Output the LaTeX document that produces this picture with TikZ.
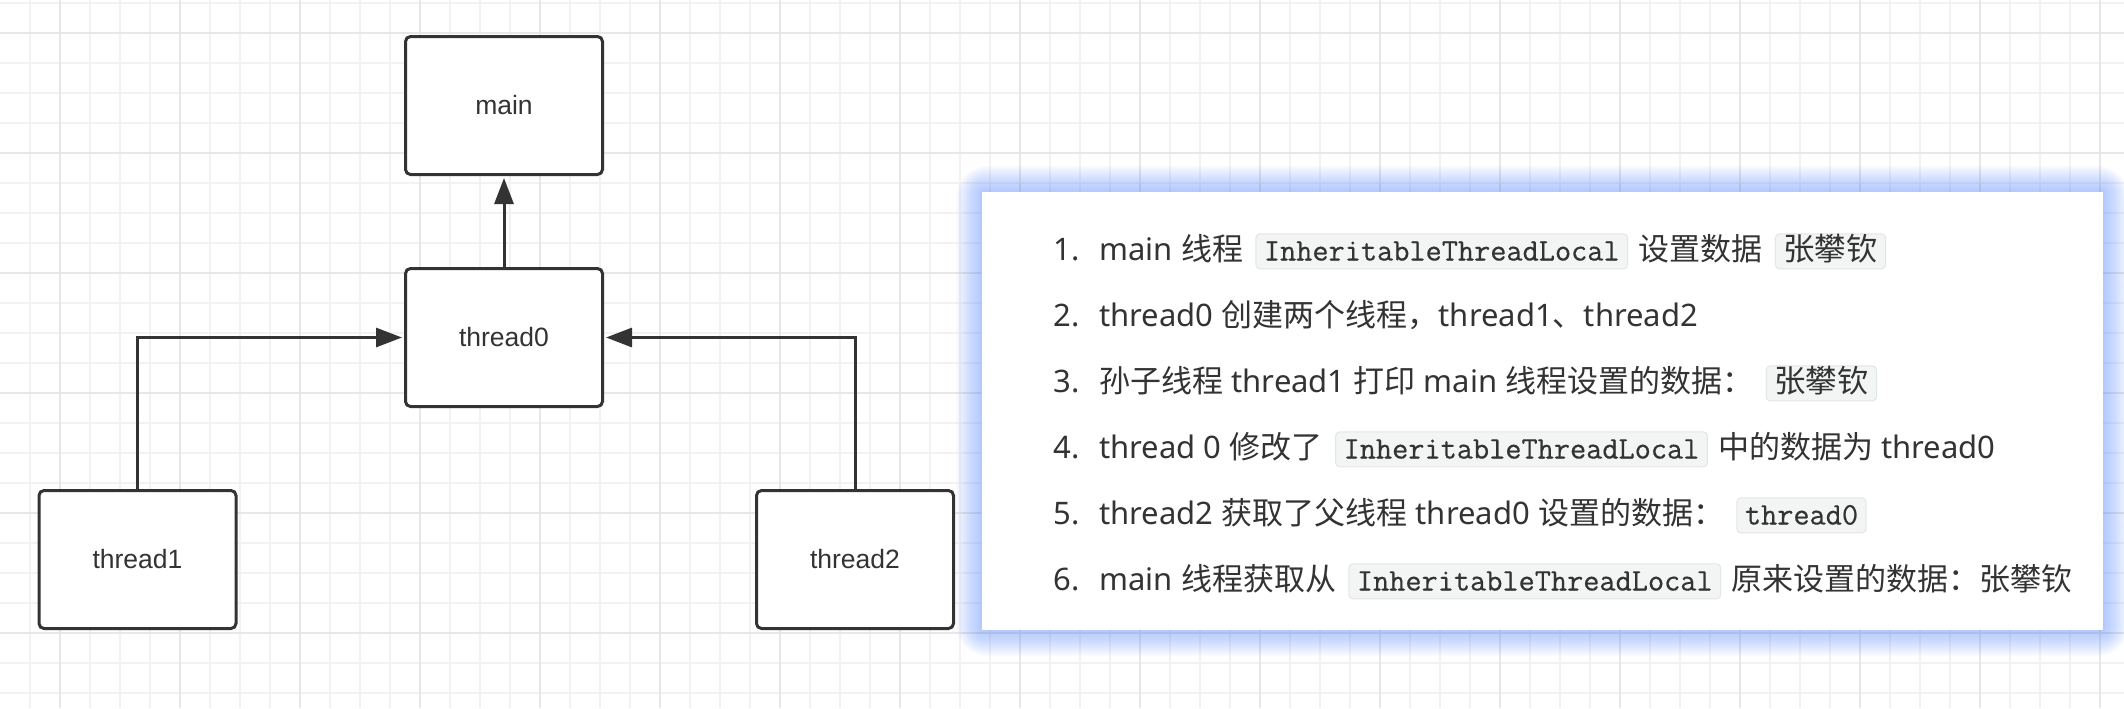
\documentclass[tikz,border=0pt]{standalone}
\usepackage{fontspec}
\setmainfont{Noto Sans}
\newfontfamily\cjkfont{Noto Sans CJK SC}
\newfontfamily\boxfont{Liberation Sans}
\newfontfamily\codefont[FakeBold=.5]{Latin Modern Mono}
\usetikzlibrary{arrows.meta,positioning}

\definecolor{ink}{HTML}{333333}
\definecolor{gridminor}{HTML}{F2F2F2}
\definecolor{gridmajor}{HTML}{E7E7E7}
\definecolor{glow}{HTML}{7BA4FF}
\definecolor{chipfill}{HTML}{F3F4F4}
\definecolor{chipline}{HTML}{E3E6E8}

\newcommand\zhtxt[1]{{\cjkfont #1}}

\tikzset{
	box/.style={draw=ink, line width=1.5pt, rounded corners=2.5pt, fill=white,
		minimum width=98.5pt, minimum height=69pt, text=ink,
		font=\boxfont\fontsize{13.25pt}{15pt}\selectfont},
	link/.style={draw=ink, line width=1.5pt, -{Triangle[length=13pt,width=9.5pt]}, shorten >=1pt},
	item/.style={anchor=base west, inner sep=0pt, text=ink, font=\fontsize{15.5pt}{18pt}\selectfont},
	code/.style={anchor=base west, fill=chipfill, draw=chipline, line width=.5pt, rounded corners=2pt,
		inner xsep=4pt, inner ysep=1.5pt, text height=11.8pt, text depth=2.7pt, text=ink,
		font=\codefont\fontsize{15.7pt}{18pt}\selectfont},
	minorgrid/.style={draw=gridminor, line width=1pt},
	majorgrid/.style={draw=gridmajor, line width=1pt},
}

\begin{document}
\begin{tikzpicture}[x=.5pt, y=-.5pt]
	\useasboundingbox (0,0) rectangle (2124,708);
	\fill[white] (0,0) rectangle (2124,708);
	
	% grid
	\foreach \k in {0,...,70}
		\draw[minorgrid] (29.5+\k*30,0) -- (29.5+\k*30,708);
	\foreach \k in {0,...,23}
		\draw[minorgrid] (0,2.7+\k*30) -- (2124,2.7+\k*30);
	\foreach \k in {0,...,17}
		\draw[majorgrid] (59.5+\k*120,0) -- (59.5+\k*120,708);
	\foreach \k in {0,...,5}
		\draw[majorgrid] (0,32.7+\k*120) -- (2124,32.7+\k*120);
	
	% threads
	\node[box] (main) at (504,105.5) {main};
	\node[box] (thread0) at (504,337.5) {thread0};
	\node[box] (thread1) at (137.5,559.5) {thread1};
	\node[box] (thread2) at (855,559.5) {thread2};
	
	\draw[link] (thread0) -- (main);
	\draw[link] (thread1) |- (thread0);
	\draw[link] (thread2) |- (thread0);
	
	% notes panel
	\foreach \g in {1,...,20}
		\fill[glow, opacity=.035, rounded corners=\g*.8pt] (982-\g*1.3,192-\g*1.3) rectangle (2103+\g*1.3,630+\g*1.3);
	\fill[white] (982,192) rectangle (2103,630);
	
	\node[item] (n1) at (1053,260.5) {1.};
	\node[item] (l1a) at (1099,260.5) {main \zhtxt{线程}};
	\node[code] (l1b) at ([xshift=6pt]l1a.base east) {InheritableThreadLocal};
	\node[item] (l1c) at ([xshift=5pt]l1b.base east) {\zhtxt{设置数据}};
	\node[code] (l1d) at ([xshift=6pt]l1c.base east) {\zhtxt{张攀钦}};
	
	\node[item] (n2) at (1053,326.5) {2.};
	\node[item] (l2a) at (1099,326.5) {thread0 \zhtxt{创建两个线程，}thread1\zhtxt{、}thread2};
	
	\node[item] (n3) at (1053,392.5) {3.};
	\node[item] (l3a) at (1099,392.5) {\zhtxt{孙子线程} thread1 \zhtxt{打印} main \zhtxt{线程设置的数据：}};
	\node[code] (l3b) at ([xshift=6pt]l3a.base east) {\zhtxt{张攀钦}};
	
	\node[item] (n4) at (1053,458.5) {4.};
	\node[item] (l4a) at (1099,458.5) {thread 0 \zhtxt{修改了}};
	\node[code] (l4b) at ([xshift=6pt]l4a.base east) {InheritableThreadLocal};
	\node[item] (l4c) at ([xshift=5pt]l4b.base east) {\zhtxt{中的数据为} thread0};
	
	\node[item] (n5) at (1053,524.5) {5.};
	\node[item] (l5a) at (1099,524.5) {thread2 \zhtxt{获取了父线程} thread0 \zhtxt{设置的数据：}};
	\node[code] (l5b) at ([xshift=6pt]l5a.base east) {thread0};
	
	\node[item] (n6) at (1053,590.5) {6.};
	\node[item] (l6a) at (1099,590.5) {main \zhtxt{线程获取从}};
	\node[code] (l6b) at ([xshift=6pt]l6a.base east) {InheritableThreadLocal};
	\node[item] (l6c) at ([xshift=5pt]l6b.base east) {\zhtxt{原来设置的数据：张攀钦}};
\end{tikzpicture}
\end{document}
